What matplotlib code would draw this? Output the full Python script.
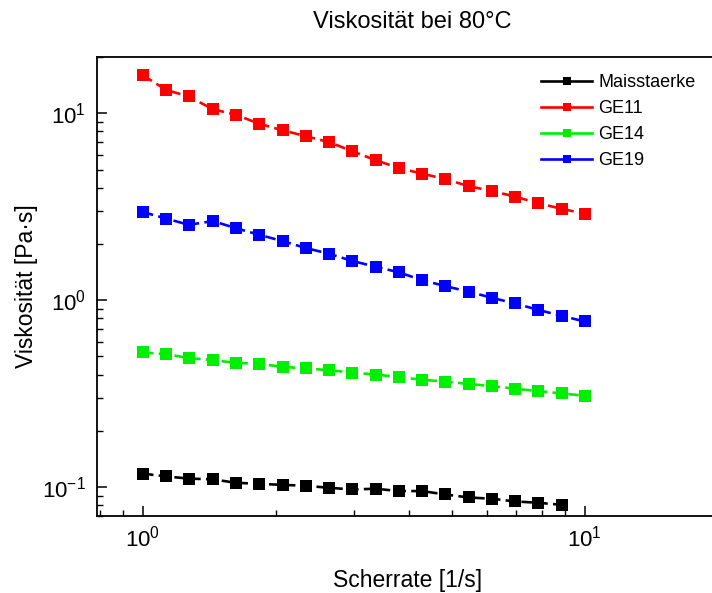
import matplotlib
matplotlib.use("Agg")
import matplotlib.pyplot as plt
from matplotlib.lines import Line2D

plt.rcParams["font.family"] = ["Liberation Sans", "DejaVu Sans"]

# Scherrate [1/s]
scherrate = [1.00, 1.13, 1.27, 1.44, 1.62, 1.83, 2.07, 2.34, 2.64, 2.98,
             3.36, 3.79, 4.28, 4.83, 5.46, 6.16, 6.95, 7.85, 8.86, 10.0]

# Viskositaet [Pa*s]
maisstaerke = [0.118, 0.114, 0.111, 0.110, 0.1055, 0.104, 0.1028, 0.1016, 0.0991, 0.0971,
               0.098, 0.0952, 0.0952, 0.0913, 0.0880, 0.0866, 0.0838, 0.0824, 0.0804]
ge11 = [15.96, 13.3, 12.3, 10.5, 9.83, 8.80, 8.11, 7.53, 7.00, 6.26,
        5.61, 5.10, 4.75, 4.45, 4.07, 3.84, 3.58, 3.30, 3.08, 2.90]
ge14 = [0.525, 0.514, 0.490, 0.478, 0.462, 0.456, 0.440, 0.431, 0.422, 0.410,
        0.400, 0.388, 0.375, 0.367, 0.356, 0.347, 0.336, 0.326, 0.317, 0.308]
ge19 = [2.96, 2.73, 2.53, 2.65, 2.43, 2.24, 2.07, 1.90, 1.77, 1.62,
        1.51, 1.41, 1.28, 1.19, 1.11, 1.03, 0.96, 0.887, 0.824, 0.769]

serien = [
    ("Maisstaerke", maisstaerke, "#000000"),
    ("GE11", ge11, "#ff0000"),
    ("GE14", ge14, "#00ee00"),
    ("GE19", ge19, "#0000ff"),
]

fig = plt.figure(figsize=(7.12, 5.93), dpi=100)
ax = fig.add_axes([0.1362, 0.1298, 0.872, 0.7741])

handles = []
for name, werte, farbe in serien:
    ax.plot(scherrate[:len(werte)], werte, color=farbe, linestyle=(0, (4, 2)),
            linewidth=1.9, marker="s", markersize=8, markeredgewidth=0)
    # Legende mit durchgezogener Linie wie im Original
    handles.append(Line2D([], [], color=farbe, linewidth=1.9, marker="s",
                          markersize=6, markeredgewidth=0, label=name))

ax.set_xscale("log")
ax.set_yscale("log")
ax.set_xlim(0.787, 20)
ax.set_ylim(0.07, 20)

ax.spines["right"].set_visible(False)
for s in ["left", "top", "bottom"]:
    ax.spines[s].set_linewidth(1.3)

ax.tick_params(which="major", direction="in", length=7, width=1.1, labelsize=16)
ax.tick_params(which="minor", direction="in", length=4, width=1.0)
ax.tick_params(axis="x", pad=7)
ax.tick_params(axis="y", pad=8)

fig.text(412 / 712, 1 - 22 / 593, "Viskosität bei 80°C", fontsize=17, ha="center", va="center")
ax.set_xlabel("Scherrate [1/s]", fontsize=16.5, va="center")
ax.xaxis.set_label_coords((408 - 97) / 621, -(580 - 516) / 459)
ax.set_ylabel("Viskosität [Pa·s]", fontsize=16.5, va="center")
ax.yaxis.set_label_coords(-(97 - 27) / 621, 0.5)

ax.legend(handles=handles, loc="upper right", bbox_to_anchor=(0.99, 0.998), frameon=False,
          fontsize=13, handlelength=2.8, labelspacing=0.5, handletextpad=0.35)

fig.savefig("out.png", dpi=100)
